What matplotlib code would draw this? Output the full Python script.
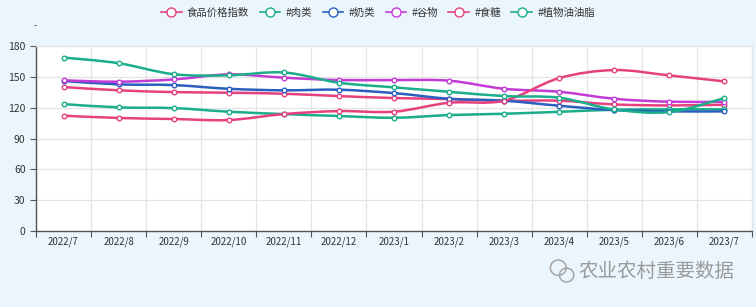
import matplotlib
matplotlib.use("Agg")
import matplotlib.pyplot as plt
from matplotlib.path import Path
from matplotlib.patches import PathPatch, Ellipse
from matplotlib.lines import Line2D
import numpy as np

plt.rcParams['font.family'] = ['Noto Sans CJK SC', 'DejaVu Sans']

months = ["2022/7", "2022/8", "2022/9", "2022/10", "2022/11", "2022/12", "2023/1",
          "2023/2", "2023/3", "2023/4", "2023/5", "2023/6", "2023/7"]

food_index = [140.1, 136.9, 135.2, 134.6, 133.6, 131.3, 129.4, 128.4, 126.8, 126.8, 123.2, 122.2, 122.9]
meat = [123.5, 120.3, 119.6, 116.1, 113.8, 111.9, 110.2, 112.8, 114.1, 116.0, 118.0, 118.4, 118.4]
dairy = [146.0, 142.7, 142.0, 138.4, 136.9, 137.5, 134.2, 128.7, 126.8, 121.9, 117.7, 116.4, 116.4]
cereals = [146.6, 145.3, 147.5, 152.4, 149.2, 146.9, 146.9, 146.3, 138.4, 135.5, 128.7, 125.8, 125.8]
sugar = [112.2, 110.0, 109.0, 108.0, 113.8, 116.7, 116.1, 124.8, 126.8, 148.8, 156.6, 151.4, 145.6]
veg_oil = [168.8, 163.3, 152.6, 151.5, 154.3, 144.3, 139.8, 135.5, 131.3, 129.7, 118.3, 115.8, 129.4]

series = [
    ("食品价格指数", food_index, "#e6407f"),
    ("#肉类", meat, "#1aae8a"),
    ("#奶类", dairy, "#2a5fbf"),
    ("#谷物", cereals, "#c23bd4"),
    ("#食糖", sugar, "#e6407f"),
    ("#植物油油脂", veg_oil, "#1aae8a"),
]


def smooth_path(x, y, k=1/6):
    # catmull-rom style bezier, like echarts smooth lines
    pts = np.column_stack([x, y]).astype(float)
    n = len(pts)
    verts = [pts[0]]
    codes = [Path.MOVETO]
    for i in range(n - 1):
        p0 = pts[max(i - 1, 0)]
        p1 = pts[i]
        p2 = pts[i + 1]
        p3 = pts[min(i + 2, n - 1)]
        c1 = p1 + (p2 - p0) * k
        c2 = p2 - (p3 - p1) * k
        verts += [c1, c2, p2]
        codes += [Path.CURVE4] * 3
    return Path(verts, codes)


fig = plt.figure(figsize=(7.56, 3.07), dpi=100)
fig.patch.set_facecolor("#eaf5fd")
ax = fig.add_axes([0.0476, 0.2476, 0.9471, 0.6024])
ax.set_facecolor("white")

x = np.arange(len(months))
for name, vals, color in series:
    ax.add_patch(PathPatch(smooth_path(x, vals), facecolor="none", edgecolor=color,
                           lw=1.8, zorder=3))
    ax.plot(x, vals, linestyle="none", marker="o", markersize=3.3, markerfacecolor="white",
            markeredgecolor=color, markeredgewidth=1.0, zorder=4)

ax.set_xlim(-0.5, len(months) - 0.5)
ax.set_ylim(0, 180)
ax.set_yticks(range(0, 181, 30))
ax.set_xticks(x)
ax.set_xticklabels(months)
ax.set_xticks(np.arange(-0.5, len(months), 1), minor=True)
ax.tick_params(axis="x", which="major", length=0, labelsize=7, colors="#333333", pad=4)
ax.tick_params(axis="x", which="minor", length=4, color="#555555", width=0.8)
ax.tick_params(axis="y", length=4, labelsize=7.5, width=0.8)
ax.tick_params(axis="y", colors="#555555", labelcolor="#333333")

ax.grid(True, axis="y", color="#e4e4e4", lw=0.9)
ax.grid(True, axis="x", which="minor", color="#e4e4e4", lw=0.9)
ax.set_axisbelow(True)

for side in ["top", "right"]:
    ax.spines[side].set_color("#e4e4e4")
    ax.spines[side].set_linewidth(0.9)
for side in ["left", "bottom"]:
    ax.spines[side].set_color("#555555")
    ax.spines[side].set_linewidth(1.0)

fig.text(0.047, 0.905, "-", fontsize=7, color="#555555", ha="center")

handles = [Line2D([0], [0], color=c, lw=1.2, marker="o", markersize=6.5,
                  markerfacecolor="white", markeredgecolor=c, markeredgewidth=1.0)
           for _, _, c in series]
fig.legend(handles, [s[0] for s in series], loc="upper center", bbox_to_anchor=(0.5, 1.005),
           ncol=6, frameon=False, fontsize=7.5, handlelength=2.0, handletextpad=0.5,
           columnspacing=1.0, labelcolor="#333333")

# watermark: wechat-like icon + account name
icon_kw = dict(facecolor="none", edgecolor="#a5a5a5", lw=1.1, transform=fig.transFigure)
fig.patches.append(Ellipse((0.7385, 0.128), 0.021, 0.05, **icon_kw))
fig.patches.append(Ellipse((0.7495, 0.104), 0.019, 0.045, **icon_kw))
fig.text(0.972, 0.115, "农业农村重要数据", fontsize=14, color="#9a9a9a", ha="right", va="center")

fig.savefig("out.png", dpi=100, facecolor=fig.get_facecolor())
